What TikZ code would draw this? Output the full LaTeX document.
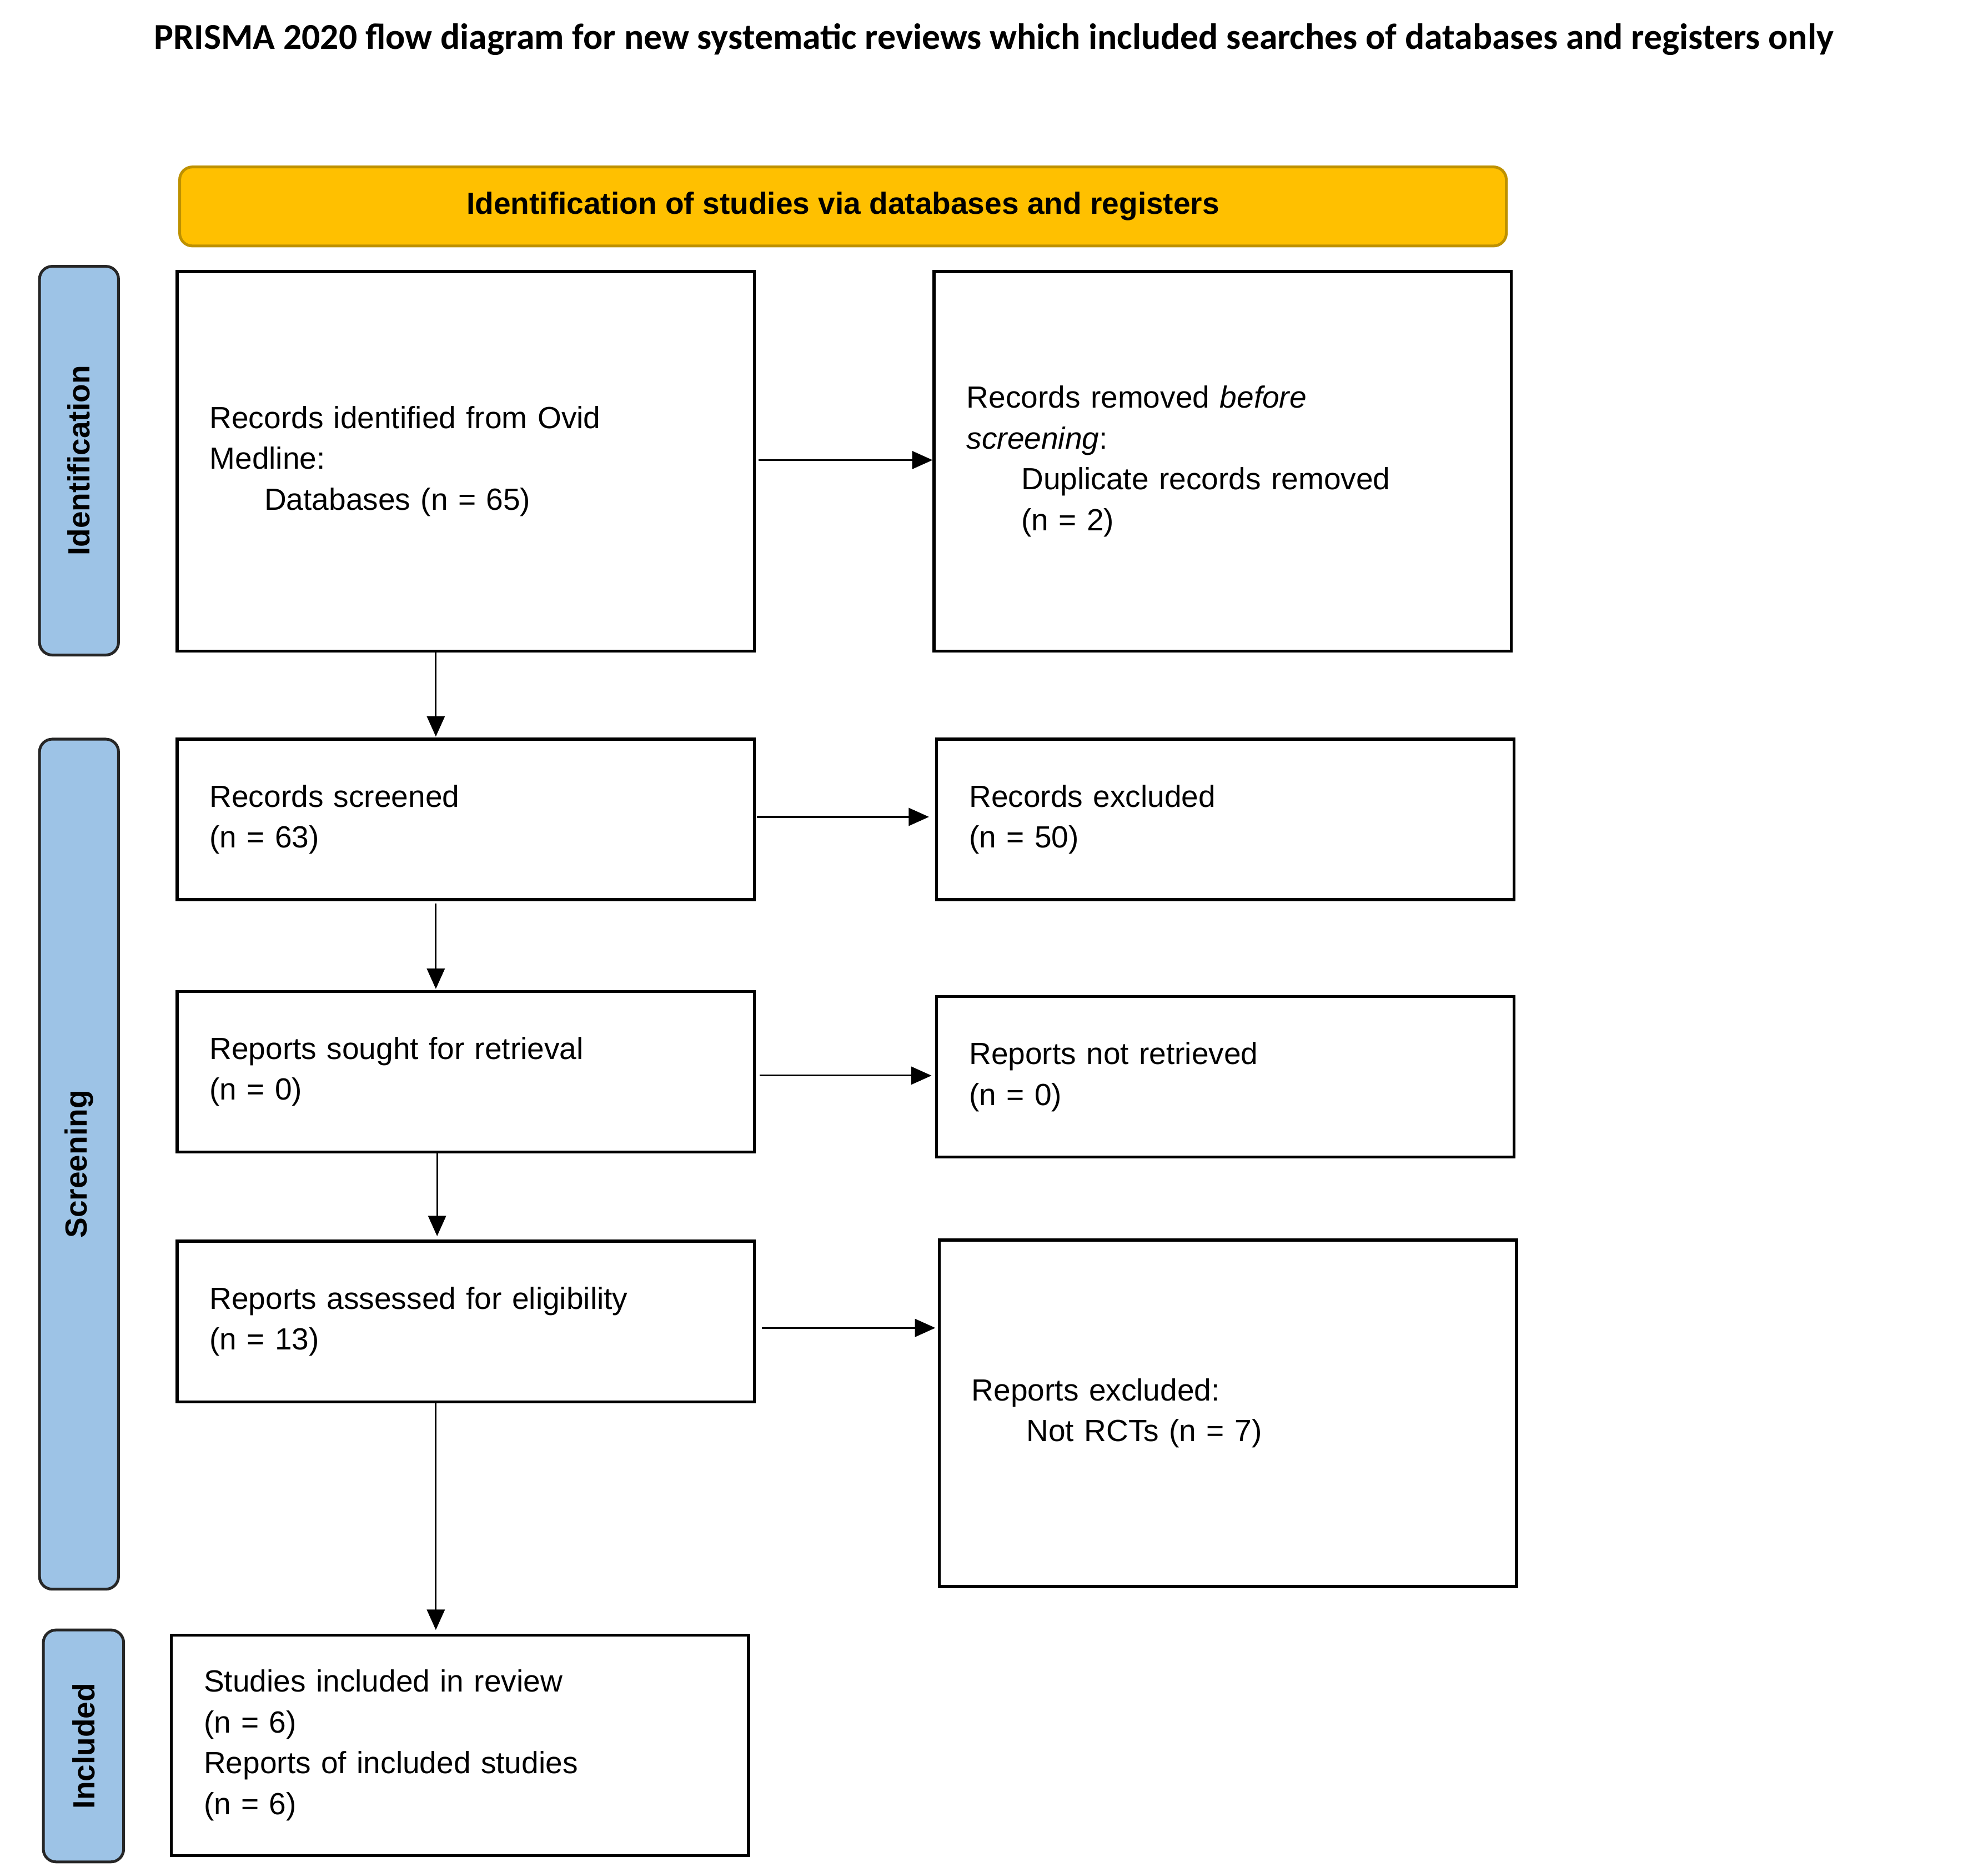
\documentclass[tikz,border=0pt]{standalone}
\usepackage{fontspec}
\setmainfont{Liberation Sans}
\newfontfamily\titlefont{Carlito}
\usetikzlibrary{arrows.meta}
\begin{document}
\begin{tikzpicture}[x=0.5pt,y=-0.5pt,
  box/.style={draw,line width=1.2pt,minimum width=226.5pt,text width=201pt,align=left,inner xsep=12.5pt,font=\fontsize{12}{16}\selectfont},
  side/.style={draw=black!85,line width=1.1pt,fill=blue!30!cyan!25!white,fill={rgb,255:red,157;green,195;blue,230},rounded corners=5pt,font=\bfseries\fontsize{12}{14}\selectfont},
  arr/.style={-{Triangle[length=8pt,width=7pt]},line width=0.7pt}]
\useasboundingbox (0,0) rectangle (1560,1465);
\node[font=\titlefont\bfseries\fontsize{14.3}{16}\selectfont] (title) at (780,31) {PRISMA 2020 flow diagram for new systematic reviews which included searches of databases and registers only};
\node[draw={rgb,255:red,190;green,145;blue,0},line width=1.1pt,fill={rgb,255:red,255;green,192;blue,0},rounded corners=5pt,minimum width=520.5pt,minimum height=31pt,font=\bfseries\fontsize{12}{14}\selectfont] (hdr) at (661.5,162) {Identification of studies via databases and registers};
\node[side,minimum width=31pt,minimum height=152.5pt] (s1) at (62,361.5) {};
\node[rotate=90,font=\bfseries\fontsize{12}{14}\selectfont] at (s1) {Identification};
\node[side,minimum width=31pt,minimum height=333.5pt] (s2) at (62,913.5) {};
\node[rotate=90,font=\bfseries\fontsize{12}{14}\selectfont] at (s2) {Screening};
\node[side,minimum width=31.5pt,minimum height=91pt] (s3) at (65.5,1370) {};
\node[rotate=90,font=\bfseries\fontsize{12}{14}\selectfont] at (s3) {Included};
\node[box,minimum height=149pt] (A) at (365.5,362) {Records identified from Ovid\\Medline:\\\hspace*{21.5pt}Databases (n = 65)};
\node[box,minimum height=149pt] (B) at (959.5,362) {Records removed \textit{before}\\\textit{screening}:\\\hspace*{21.5pt}Duplicate records removed\\\hspace*{21.5pt}(n = 2)};
\node[box,minimum height=63pt] (C) at (365.5,643) {Records screened\\(n = 63)};
\node[box,minimum height=63pt] (D) at (961.5,643) {Records excluded\\(n = 50)};
\node[box,minimum height=63pt] (E) at (365.5,841) {Reports sought for retrieval\\(n = 0)};
\node[box,minimum height=63pt] (F) at (961.5,845) {Reports not retrieved\\(n = 0)};
\node[box,minimum height=63pt] (G) at (365.5,1037) {Reports assessed for eligibility\\(n = 13)};
\node[box,minimum height=136pt] (H) at (963.5,1109) {Reports excluded:\\\hspace*{21.5pt}Not RCTs (n = 7)};
\node[box,minimum height=86.5pt] (I) at (361,1369.5) {Studies included in review\\(n = 6)\\Reports of included studies\\(n = 6)};
\draw[arr] (A.east|-0,361) ++(2,0) -- (B.west|-0,361) ;
\draw[arr] (342,511) -- (342,578);
\draw[arr] (594,641) -- (729,641);
\draw[arr] (342,709) -- (342,776);
\draw[arr] (596,844) -- (731,844);
\draw[arr] (343,904) -- (343,970);
\draw[arr] (598,1042) -- (734,1042);
\draw[arr] (342,1100) -- (342,1279);
\end{tikzpicture}
\end{document}
